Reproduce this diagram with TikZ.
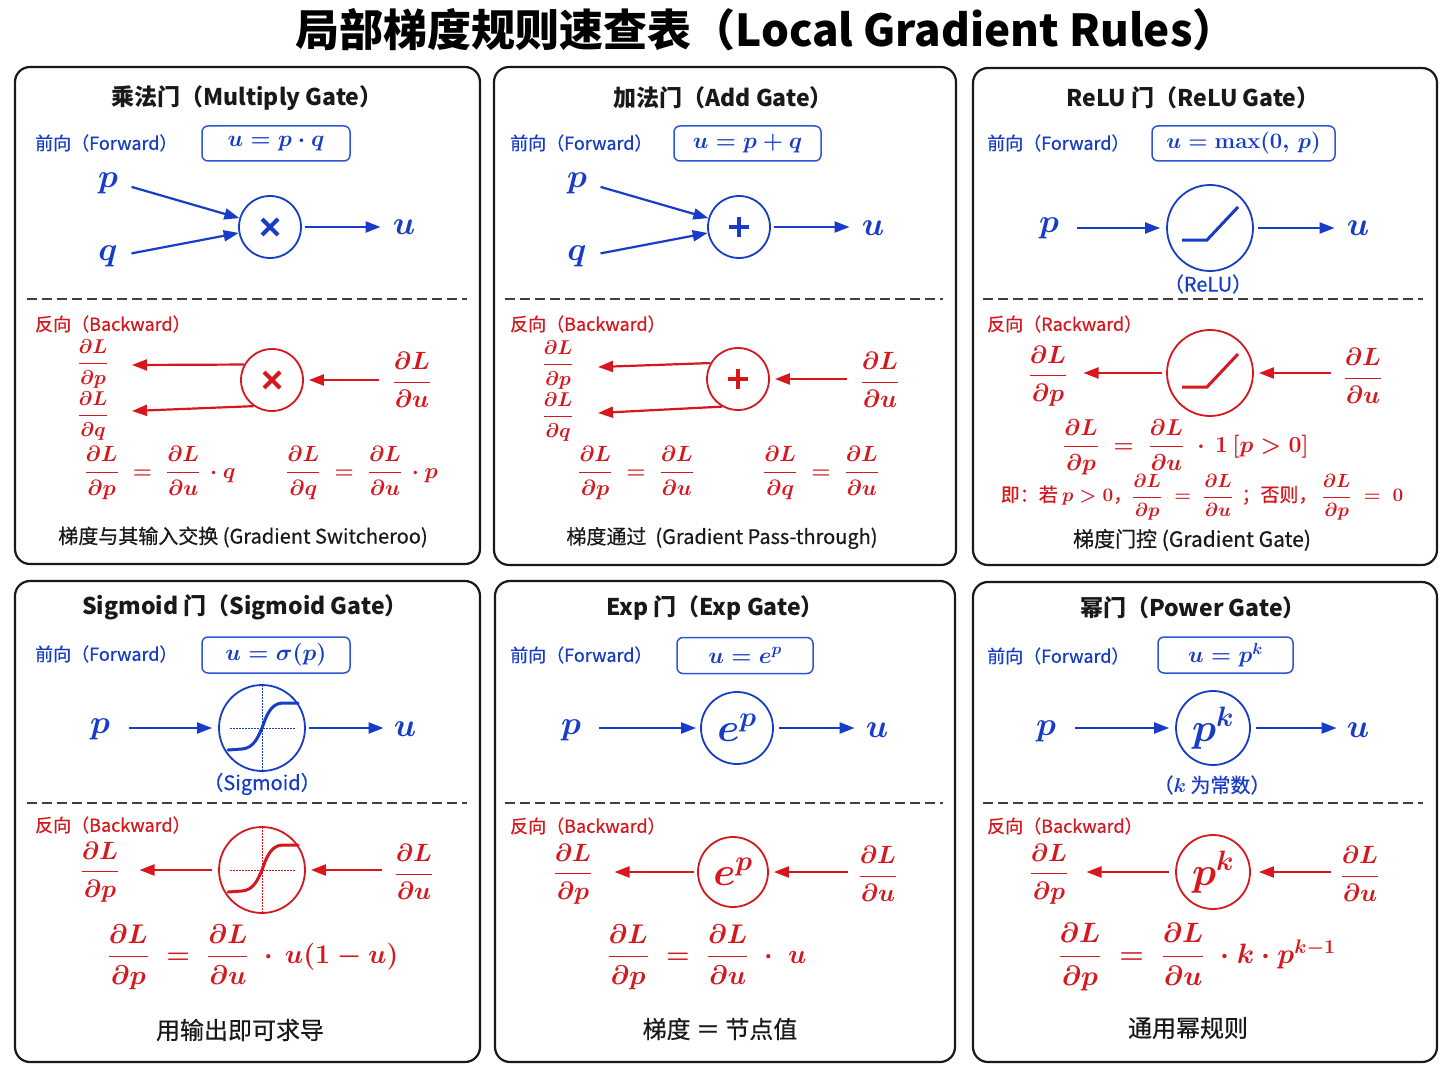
\RequirePackage{fix-cm}
\documentclass[tikz,border=0pt]{standalone}
\usepackage{amsmath}
\usepackage[no-math]{fontspec}
\setmainfont{Noto Sans CJK SC}
\newfontfamily\medfont[FakeBold=0.5]{Noto Sans CJK SC}
\usetikzlibrary{arrows.meta,calc}
\definecolor{gblue}{RGB}{22,60,200}
\definecolor{gred}{RGB}{214,24,30}
\definecolor{boxblue}{RGB}{45,85,215}
\newcommand{\fsz}[1]{\fontsize{#1}{#1}\selectfont}
\newcommand{\pd}[2]{\dfrac{\partial #1}{\partial #2}}
\tikzset{
  panel/.style={draw=black!90, line width=2.2pt, rounded corners=15pt},
  sepline/.style={draw=black!75, line width=1.8pt, dash pattern=on 10pt off 5pt},
  ptitle/.style={font=\fsz{23}\bfseries, text=black!90, inner sep=0},
  flabel/.style={font=\fsz{18}\medfont, text=gblue, anchor=west, inner sep=0},
  blabel/.style={font=\fsz{18}\medfont, text=gred, anchor=west, inner sep=0},
  fbox/.style={draw=boxblue, line width=1.5pt, rounded corners=6pt, text=gblue, font=\fsz{23}, minimum height=35pt, inner sep=0},
  bvar/.style={font=\fsz{33}, text=gblue, inner sep=0},
  bgate/.style={circle, draw=gblue, line width=1.8pt, inner sep=0, text=gblue},
  rgate/.style={circle, draw=gred, line width=1.8pt, inner sep=0, text=gred},
  rmath/.style={text=gred, inner sep=0},
  barrow/.style={draw=gblue, line width=2.2pt, -{Triangle[length=15pt,width=11pt]}},
  rarrow/.style={draw=gred, line width=2.2pt, -{Triangle[length=15pt,width=11pt]}},
  bsub/.style={font=\fsz{20}\medfont, text=gblue, inner sep=0},
  captxt/.style={font=\fsz{20}\medfont, text=black!90, inner sep=0},
  capbig/.style={font=\fsz{24}\medfont, text=black!90, inner sep=0},
  gsym/.style={line width=4pt},
  scurve/.style={line width=3pt, line cap=round},
  dotl/.style={line width=1pt, dash pattern=on 1.5pt off 1.5pt},
}
\begin{document}
\boldmath
\begin{tikzpicture}[x=1pt,y=-1pt]
\useasboundingbox (0,0) rectangle (1448,1086);
\fill[white] (0,0) rectangle (1448,1086);

% main title
\node[font=\fsz{44}\bfseries, text=black, inner sep=0] (title) at (766,30) {局部梯度规则速查表（Local Gradient Rules）};

% panels
\draw[panel] (15,67) rectangle (480,564);
\draw[panel] (494,67) rectangle (956,565);
\draw[panel] (973,68) rectangle (1437,565);
\draw[panel] (15,581) rectangle (480,1062);
\draw[panel] (495,581) rectangle (955,1062);
\draw[panel] (973,582) rectangle (1437,1062);

% separators
\draw[sepline] (27,299) -- (467,299);
\draw[sepline] (505,299) -- (943,299);
\draw[sepline] (983,299) -- (1423,299);
\draw[sepline] (27,803) -- (467,803);
\draw[sepline] (505,803) -- (943,803);
\draw[sepline] (983,803) -- (1423,803);

% ================= Panel 1: Multiply =================
\node[ptitle] (t1) at (247,98) {乘法门（Multiply Gate）};
\node[flabel] (f1) at (35,143) {前向（Forward）};
\node[fbox, minimum width=148pt] (fb1) at (276,143.5) {$u = p\cdot q$};
\node[bvar] (p1) at (108,183) {$p$};
\node[bvar] (q1) at (108,256) {$q$};
\node[bgate, minimum size=62pt] (g1) at (270,227) {};
\draw[gblue, gsym] ($(g1)+(-8,-8)$) -- ($(g1)+(8,8)$);
\draw[gblue, gsym] ($(g1)+(-8,8)$) -- ($(g1)+(8,-8)$);
\node[bvar] (u1) at (404,227) {$u$};
\draw[barrow, shorten <=14pt] (p1.east) -- (g1);
\draw[barrow, shorten <=14pt] (q1.east) -- (g1);
\draw[barrow, shorten <=3pt, shorten >=12pt] (g1.east) -- (g1.east -| u1.west);

\node[blabel] (b1) at (35,324) {反向（Backward）};
\node[rmath, font=\fsz{20}] (dp1) at (93,364) {$\pd{L}{p}$};
\node[rmath, font=\fsz{20}] (dq1) at (93,416) {$\pd{L}{q}$};
\node[rgate, minimum size=62pt] (gb1) at (272,380) {};
\draw[gred, gsym] ($(gb1)+(-8,-8)$) -- ($(gb1)+(8,8)$);
\draw[gred, gsym] ($(gb1)+(-8,8)$) -- ($(gb1)+(8,-8)$);
\node[rmath, font=\fsz{25}] (du1) at (412,380) {$\pd{L}{u}$};
\coordinate (e1a) at (132,365);
\coordinate (e1b) at (132,411);
\draw[rarrow] (gb1.151) -- (e1a);
\draw[rarrow] (gb1.235) -- (e1b);
\draw[rarrow, shorten <=14pt, shorten >=5pt] (du1.west |- gb1.east) -- (gb1.east);
\node[rmath, font=\fsz{22}] (eq1a) at (160,473) {$\pd{L}{p} \;=\; \pd{L}{u}\,\cdot q$};
\node[rmath, font=\fsz{22}] (eq1b) at (362,473) {$\pd{L}{q} \;=\; \pd{L}{u}\,\cdot p$};
\node[captxt] (c1) at (243,537) {梯度与其输入交换 (Gradient Switcheroo)};

% ================= Panel 2: Add =================
\node[ptitle] (t2) at (723,98) {加法门（Add Gate）};
\node[flabel] (f2) at (510,143) {前向（Forward）};
\node[fbox, minimum width=147pt] (fb2) at (747.5,143.5) {$u = p + q$};
\node[bvar] (p2) at (577,183) {$p$};
\node[bvar] (q2) at (577,256) {$q$};
\node[bgate, minimum size=62pt] (g2) at (739,227) {};
\draw[gblue, gsym] ($(g2)+(-10,0)$) -- ($(g2)+(10,0)$);
\draw[gblue, gsym] ($(g2)+(0,-10)$) -- ($(g2)+(0,10)$);
\node[bvar] (u2) at (873,228) {$u$};
\draw[barrow, shorten <=14pt] (p2.east) -- (g2);
\draw[barrow, shorten <=14pt] (q2.east) -- (g2);
\draw[barrow, shorten <=3pt, shorten >=12pt] (g2.east) -- (g2.east -| u2.west);

\node[blabel] (b2) at (510,324) {反向（Backward）};
\node[rmath, font=\fsz{20}] (dp2) at (558,365) {$\pd{L}{p}$};
\node[rmath, font=\fsz{20}] (dq2) at (558,417) {$\pd{L}{q}$};
\node[rgate, minimum size=62pt] (gb2) at (738,379) {};
\draw[gred, gsym] ($(gb2)+(-10,0)$) -- ($(gb2)+(10,0)$);
\draw[gred, gsym] ($(gb2)+(0,-10)$) -- ($(gb2)+(0,10)$);
\node[rmath, font=\fsz{25}] (du2) at (880,380) {$\pd{L}{u}$};
\coordinate (e2a) at (598,367);
\coordinate (e2b) at (598,413);
\draw[rarrow] (gb2.150) -- (e2a);
\draw[rarrow] (gb2.240) -- (e2b);
\draw[rarrow, shorten <=14pt, shorten >=5pt] (du2.west |- gb2.east) -- (gb2.east);
\node[rmath, font=\fsz{22}] (eq2a) at (636,473) {$\pd{L}{p} \;=\; \pd{L}{u}$};
\node[rmath, font=\fsz{22}] (eq2b) at (821,473) {$\pd{L}{q} \;=\; \pd{L}{u}$};
\node[captxt] (c2) at (722,538) {梯度通过\ \ (Gradient Pass-through)};

% ================= Panel 3: ReLU =================
\node[ptitle] (t3) at (1193,98) {ReLU 门（ReLU Gate）};
\node[flabel] (f3) at (987,143) {前向（Forward）};
\node[fbox, minimum width=183pt, font=\fsz{22}] (fb3) at (1243.5,143.5) {$u = \max(0,\, p)$};
\node[bvar] (p3) at (1049,228) {$p$};
\node[bgate, minimum size=86pt] (g3) at (1210,228) {};
\draw[gblue, line width=3pt] ($(g3)+(-28,12)$) -- ++(25,0) -- ++(31,-33);
\node[bvar] (u3) at (1358,228) {$u$};
\node[bsub] (s3) at (1208,284) {（ReLU）};
\draw[barrow, shorten <=18pt, shorten >=6pt] (p3.east |- g3.west) -- (g3.west);
\draw[barrow, shorten <=4pt, shorten >=12pt] (g3.east) -- (g3.east -| u3.west);

\node[blabel] (b3) at (987,324) {反向（Rackward）};
\node[rmath, font=\fsz{25}] (dp3) at (1048,376) {$\pd{L}{p}$};
\node[rgate, minimum size=86pt] (gb3) at (1210,373) {};
\draw[gred, line width=3pt] ($(gb3)+(-28,14)$) -- ++(25,0) -- ++(31,-33);
\node[rmath, font=\fsz{25}] (du3) at (1363,376) {$\pd{L}{u}$};
\draw[rarrow, shorten <=4pt, shorten >=16pt] (gb3.west) -- (gb3.west -| dp3.east);
\draw[rarrow, shorten <=13pt, shorten >=5pt] (du3.west |- gb3.east) -- (gb3.east);
\node[rmath, font=\fsz{23}] (eq3) at (1186,447) {$\pd{L}{p} \;=\; \pd{L}{u}\;\cdot\, 1\,[p > 0]$};
\node[rmath, font=\fsz{19}\medfont] (eq3b) at (1202,497) {即：若 $p > 0$，$\pd{L}{p} \;=\; \pd{L}{u}$\ \ ；否则，\ $\pd{L}{p} \;=\; 0$};
\node[captxt, font=\fsz{21}\medfont] (c3) at (1192,540) {梯度门控 (Gradient Gate)};

% ================= Panel 4: Sigmoid =================
\node[ptitle] (t4) at (245,607) {Sigmoid 门（Sigmoid Gate）};
\node[flabel] (f4) at (35,654) {前向（Forward）};
\node[fbox, minimum width=148pt, minimum height=36pt] (fb4) at (276,655) {$u = \sigma(p)$};
\node[bvar] (p4) at (100,729) {$p$};
\node[bgate, minimum size=86pt] (g4) at (262,728) {};
\begin{scope}[shift={(g4.center)}]
  \draw[gblue, dotl] (0,-43) -- (0,43);
  \draw[gblue, dotl] (-32,0) -- (33,0);
  \draw[gblue, scurve] (-34,22) -- (-20,21) .. controls (-8,20) and (-4,9) .. (0,0) .. controls (4,-11) and (8,-24) .. (20,-25) -- (36,-25);
\end{scope}
\node[bvar] (u4) at (405,729) {$u$};
\node[bsub] (s4) at (262,784) {（Sigmoid）};
\draw[barrow, shorten <=19pt, shorten >=6pt] (p4.east |- g4.west) -- (g4.west);
\draw[barrow, shorten <=3pt, shorten >=10pt] (g4.east) -- (g4.east -| u4.west);

\node[blabel] (b4) at (35,825) {反向（Backward）};
\node[rmath, font=\fsz{25}] (dp4) at (100,872) {$\pd{L}{p}$};
\node[rgate, minimum size=86pt] (gb4) at (262,870) {};
\begin{scope}[shift={(gb4.center)}]
  \draw[gred, dotl] (0,-43) -- (0,43);
  \draw[gred, dotl] (-32,0) -- (33,0);
  \draw[gred, scurve] (-34,22) -- (-20,21) .. controls (-8,20) and (-4,9) .. (0,0) .. controls (4,-11) and (8,-24) .. (20,-25) -- (36,-25);
\end{scope}
\node[rmath, font=\fsz{25}] (du4) at (414,872) {$\pd{L}{u}$};
\draw[rarrow, shorten <=6pt, shorten >=20pt] (gb4.west) -- (gb4.west -| dp4.east);
\draw[rarrow, shorten <=13pt, shorten >=5pt] (du4.west |- gb4.east) -- (gb4.east);
\node[rmath, font=\fsz{27}] (eq4) at (253,957) {$\pd{L}{p} \;=\; \pd{L}{u}\;\cdot\, u(1-u)$};
\node[capbig] (c4) at (240,1030) {用输出即可求导};

% ================= Panel 5: Exp =================
\node[ptitle] (t5) at (715,608) {Exp 门（Exp Gate）};
\node[flabel] (f5) at (510,655) {前向（Forward）};
\node[fbox, minimum width=136pt, minimum height=36pt] (fb5) at (745,655.5) {$u = e^{p}$};
\node[bvar] (p5) at (571,730) {$p$};
\node[bgate, minimum size=72pt, font=\fsz{40}] (g5) at (737,728) {$e^{p}$};
\node[bvar] (u5) at (877,730) {$u$};
\draw[barrow, shorten <=18pt, shorten >=4pt] (p5.east |- g5.west) -- (g5.west);
\draw[barrow, shorten <=5pt, shorten >=11pt] (g5.east) -- (g5.east -| u5.west);

\node[blabel] (b5) at (510,826) {反向（Backward）};
\node[rmath, font=\fsz{25}] (dp5) at (573,874) {$\pd{L}{p}$};
\node[rgate, minimum size=70pt, font=\fsz{40}] (gb5) at (733,872) {$e^{p}$};
\node[rmath, font=\fsz{25}] (du5) at (878,874) {$\pd{L}{u}$};
\draw[rarrow, shorten <=3pt, shorten >=22pt] (gb5.west) -- (gb5.west -| dp5.east);
\draw[rarrow, shorten <=11pt, shorten >=5pt] (du5.west |- gb5.east) -- (gb5.east);
\node[rmath, font=\fsz{27}] (eq5) at (707,957) {$\pd{L}{p} \;=\; \pd{L}{u}\;\cdot\; u$};
\node[capbig] (c5) at (720,1029) {梯度 ＝ 节点值};

% ================= Panel 6: Power =================
\node[ptitle] (t6) at (1193,608) {幂门（Power Gate）};
\node[flabel] (f6) at (987,656) {前向（Forward）};
\node[fbox, minimum width=135pt, minimum height=36pt] (fb6) at (1225.5,655) {$u = p^{k}$};
\node[bvar] (p6) at (1046,731) {$p$};
\node[bgate, minimum size=74pt, font=\fsz{40}] (g6) at (1213,728) {$p^{k}$};
\node[bvar] (u6) at (1358,730) {$u$};
\node[bsub] (s6) at (1212,785) {（$k$ 为常数）};
\draw[barrow, shorten <=19pt, shorten >=6pt] (p6.east |- g6.west) -- (g6.west);
\draw[barrow, shorten <=5pt, shorten >=10pt] (g6.east) -- (g6.east -| u6.west);

\node[blabel] (b6) at (987,826) {反向（Backward）};
\node[rmath, font=\fsz{25}] (dp6) at (1049,874) {$\pd{L}{p}$};
\node[rgate, minimum size=74pt, font=\fsz{40}] (gb6) at (1213,872) {$p^{k}$};
\node[rmath, font=\fsz{25}] (du6) at (1360,874) {$\pd{L}{u}$};
\draw[rarrow, shorten <=6pt, shorten >=18pt] (gb6.west) -- (gb6.west -| dp6.east);
\draw[rarrow, shorten <=10pt, shorten >=8pt] (du6.west |- gb6.east) -- (gb6.east);
\node[rmath, font=\fsz{28}] (eq6) at (1197,957) {$\pd{L}{p} \;=\; \pd{L}{u}\;\cdot k\cdot p^{k-1}$};
\node[capbig] (c6) at (1188,1028) {通用幂规则};
\end{tikzpicture}
\end{document}
